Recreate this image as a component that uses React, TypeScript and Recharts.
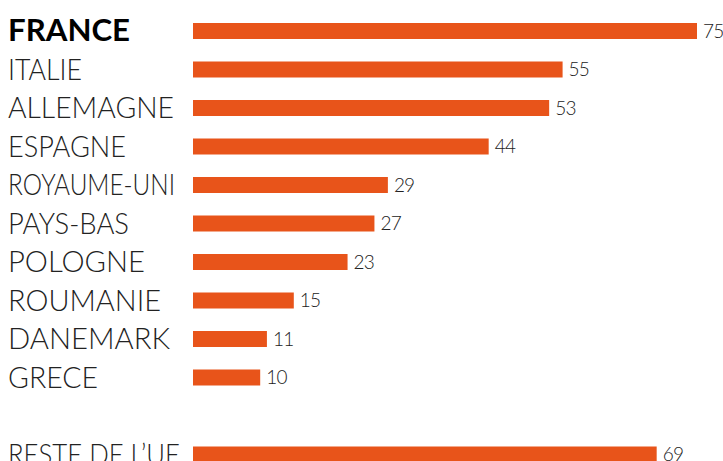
import React from 'react';
import { Bar, BarChart, LabelList, XAxis, YAxis } from 'recharts';

const countries = [
  'FRANCE', 'ITALIE', 'ALLEMAGNE', 'ESPAGNE', 'ROYAUME-UNI', 'PAYS-BAS',
  'POLOGNE', 'ROUMANIE', 'DANEMARK', 'GRECE', '', "RESTE DE L\u2019UE",
];
const values: (number | null)[] = [75, 55, 53, 44, 29, 27, 23, 15, 11, 10, null, 69];

const data = countries.map((name, i) => ({ name, value: values[i] }));

// rendered width of each label, to mimic the narrow original typeface
const labelWidth: Record<string, number> = {
  'FRANCE': 122, 'ITALIE': 74, 'ALLEMAGNE': 166, 'ESPAGNE': 118,
  'ROYAUME-UNI': 167, 'PAYS-BAS': 121, 'POLOGNE': 137, 'ROUMANIE': 153,
  'DANEMARK': 162, 'GRECE': 90, "RESTE DE L\u2019UE": 172,
};

const FONT = 'Lato, "Open Sans", sans-serif';

const CountryTick = (props: any) => {
  const { y, payload } = props;
  if (!payload.value) return null;
  const bold = payload.value === 'FRANCE';
  return (
    <text
      x={8}
      y={y}
      dy={10}
      textAnchor="start"
      fontFamily={FONT}
      fontSize={30}
      fontWeight={bold ? 700 : 300}
      textLength={labelWidth[payload.value]}
      lengthAdjust="spacingAndGlyphs"
      fill={bold ? '#000' : '#222'}
    >
      {payload.value}
    </text>
  );
};

export default function App() {
  return (
    <div style={{ position: 'absolute', left: 0, top: 0 }}>
      <BarChart
        width={723}
        height={474}
        data={data}
        layout="vertical"
        margin={{ top: 12, right: 26, bottom: 0, left: 0 }}
      >
        <XAxis type="number" domain={[0, 75]} hide />
        <YAxis
          type="category"
          dataKey="name"
          width={193}
          axisLine={false}
          tickLine={false}
          tick={<CountryTick />}
          interval={0}
        />
        <Bar dataKey="value" fill="#E8541A" barSize={16} isAnimationActive={false}>
          <LabelList
            dataKey="value"
            position="right"
            offset={6}
            fill="#222"
            fontFamily={FONT}
            fontSize={19}
            fontWeight={300}
            letterSpacing={-0.8}
          />
        </Bar>
      </BarChart>
    </div>
  );
}
